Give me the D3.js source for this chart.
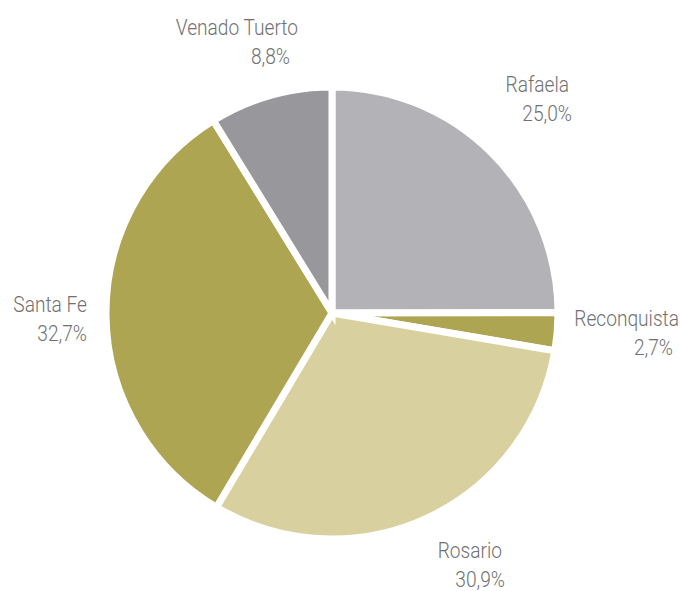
<!DOCTYPE html>
<html>
<head>
<meta charset="utf-8">
<script src="https://cdn.jsdelivr.net/npm/d3@7"></script>
<style>
  body { margin: 0; background: #fff; }
  text { font-family: "Roboto", "Liberation Sans Narrow", sans-serif; font-weight: 300; fill: #707070; }
</style>
</head>
<body>
<svg id="pie" width="681" height="591"></svg>
<script>
// data
const cities = ["Rafaela", "Reconquista", "Rosario", "Santa Fe", "Venado Tuerto"];
const shares = [25.0, 2.7, 30.9, 32.7, 8.8];
const sliceColors = ["#b3b2b7", "#ada551", "#d8d19f", "#ada551", "#98979c"];

// label anchors (right edge of each line, first baseline)
const labelAnchors = {
    "Rafaela":       { x1: 569, x2: 572, y: 92 },
    "Reconquista":   { x1: 679, x2: 673, y: 326 },
    "Rosario":       { x1: 502, x2: 505, y: 558 },
    "Santa Fe":      { x1: 87,  x2: 87,  y: 312 },
    "Venado Tuerto": { x1: 298, x2: 290, y: 35 }
};

let svg = d3.select("#pie");
let cx = 332, cy = 313, radius = 226;
let squeeze = 0.87; // condensed look

let pie = d3.pie().sort(null).value(d => d.value);
let arc = d3.arc().innerRadius(0).outerRadius(radius);

let data = cities.map((c, i) => ({ name: c, value: shares[i], color: sliceColors[i] }));

let group = svg.append("g")
    .attr("transform", "translate(" + cx + "," + cy + ")");

group.selectAll("path")
    .data(pie(data))
    .enter()
    .append("path")
    .attr("d", arc)
    .attr("fill", d => d.data.color)
    .attr("stroke", "#fff")
    .attr("stroke-width", 7)
    .attr("stroke-linejoin", "miter");

let fmt = v => v.toFixed(1).replace(".", ",") + "%";

let labels = svg.selectAll(".lbl")
    .data(data)
    .enter()
    .append("g")
    .attr("class", "lbl");

labels.append("text")
    .attr("transform", d => "translate(" + labelAnchors[d.name].x1 + "," + labelAnchors[d.name].y + ") scale(" + squeeze + ",1)")
    .attr("text-anchor", "end")
    .attr("font-size", 22)
    .text(d => d.name);

labels.append("text")
    .attr("transform", d => "translate(" + labelAnchors[d.name].x2 + "," + (labelAnchors[d.name].y + 29) + ") scale(" + squeeze + ",1)")
    .attr("text-anchor", "end")
    .attr("font-size", 22)
    .text(d => fmt(d.value));
</script>
</body>
</html>
